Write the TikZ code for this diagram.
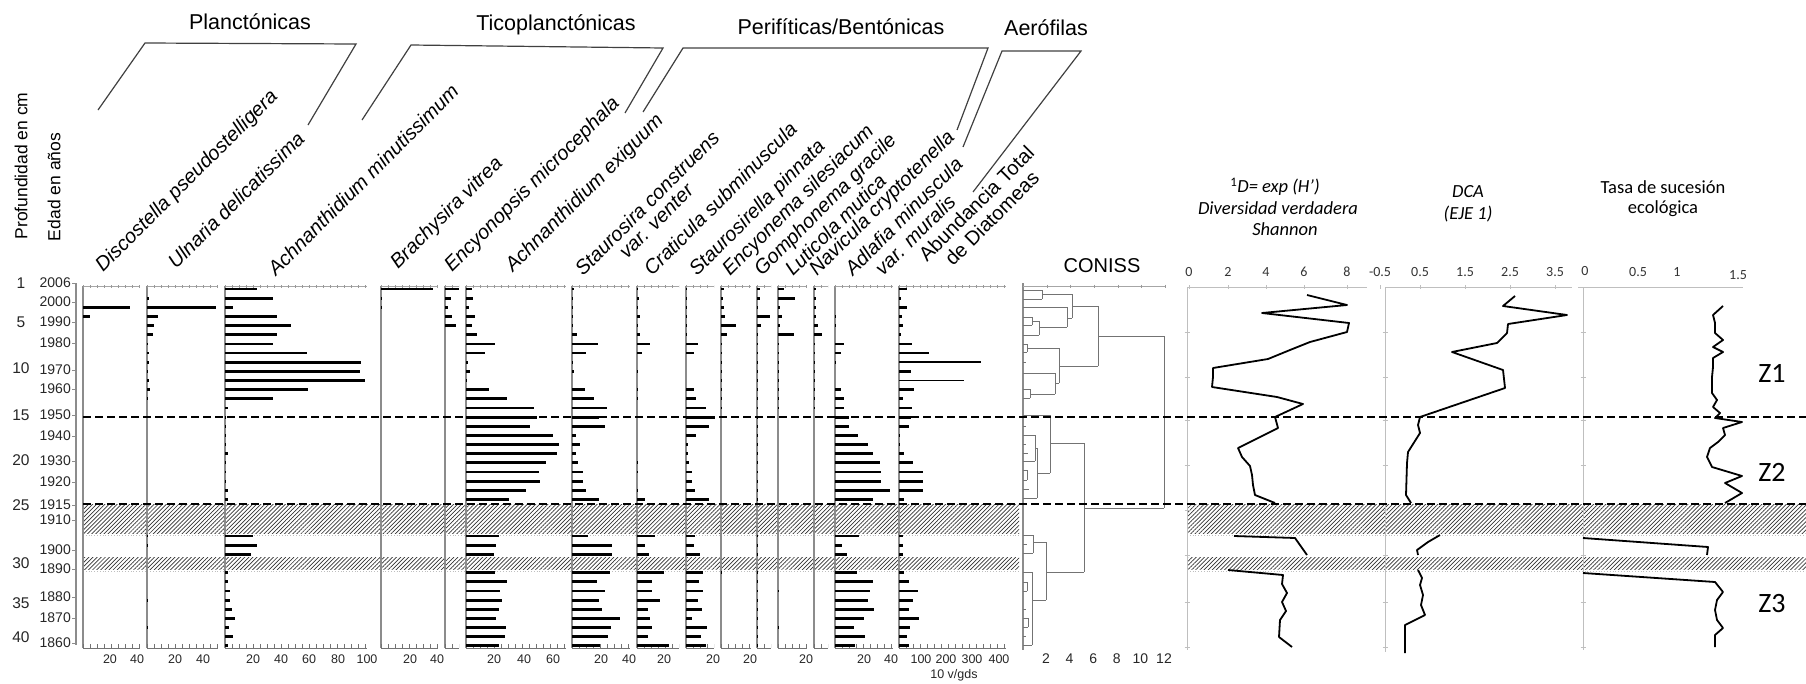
\documentclass[tikz,border=0pt]{standalone}
\usepackage{fontspec}
\setmainfont{Liberation Sans}
\newfontfamily\calib{Carlito}
\usetikzlibrary{patterns.meta}
\newcommand\drawbars[2]{%
  \foreach \bv [count=\bk from 0] in {#2}{%
    \ifdim\bv pt>0pt
      \fill[black] (#1,{289+9.15*\bk-1.4}) rectangle ++(\bv,2.8);
    \fi}}
\begin{document}
\begin{tikzpicture}[x=1pt,y=-1pt,
 colax/.style={draw=black!45,line width=1.3pt},
 topax/.style={draw=black!35,line width=0.8pt},
 topticks/.style={draw=black!40,line width=3pt,dash pattern=on 0.7pt off 6.3pt},
 botax/.style={draw=black!55,line width=1pt},
 botticks/.style={draw=black!55,line width=4pt,dash pattern=on 0.9pt off 6.1pt},
 dendl/.style={draw=black!55,line width=0.9pt},
 zonedash/.style={draw=black,line width=2.4pt,dash pattern=on 8pt off 4pt},
 hatchband/.style={pattern={Lines[angle=45,distance=2.9pt,line width=0.7pt]},pattern color=black!80},
 faint/.style={draw=black!25,line width=0.8pt,dotted},
 curvel/.style={draw=black,line width=1.8pt,line join=round},
 lightax/.style={draw=black!25,line width=1pt},
 brk/.style={draw=black!75,line width=1.2pt},
 splabel/.style={anchor=base west,rotate=45,inner sep=0pt,font=\fontsize{20}{22}\selectfont\itshape},
 grplabel/.style={inner sep=0pt,font=\fontsize{21.5}{24}\selectfont},
 ticklabel/.style={inner sep=0pt,font=\fontsize{12.5}{14}\selectfont,text=black!85},
 yearlabel/.style={anchor=east,inner sep=0pt,font=\fontsize{14}{16}\selectfont,text=black!85},
 depthlabel/.style={inner sep=0pt,font=\fontsize{15.5}{17}\selectfont,text=black!85},
 axtitle/.style={inner sep=0pt,rotate=90,font=\fontsize{17.5}{20}\selectfont},
 rtitle/.style={inner sep=0pt,font=\calib\fontsize{18.5}{21}\selectfont},
 rtick/.style={inner sep=0pt,font=\calib\fontsize{14}{16}\selectfont,text=black!80},
 zlabel/.style={inner sep=0pt,font=\calib\fontsize{28}{30}\selectfont},
]
\useasboundingbox (0,0) rectangle (1806,683);

% ---------- hatched gaps ----------
\fill[hatchband] (83,504) rectangle (1019,533);
\fill[hatchband] (83,557) rectangle (1019,569);
\fill[hatchband] (1187,504) rectangle (1806,533);
\fill[hatchband] (1187,557) rectangle (1806,569);
\foreach \yy in {535,571}{\draw[faint] (83,\yy) -- (1019,\yy); \draw[faint] (1187,\yy) -- (1806,\yy);}

% ---------- left axis ----------
\draw[colax] (76,283) -- (76,645);
\foreach \yr/\yy in {2006/283,2000/302,1990/322,1980/343,1970/370,1960/389,1950/415,1940/436,1930/461,1920/482,1915/505,1910/520,1900/550,1890/569,1880/597,1870/618,1860/643}{
  \node[yearlabel] (yr\yr) at (71,\yy) {\yr};
  \draw[black!45,line width=1pt] (72,\yy) -- (76,\yy);
}
\foreach \dp/\yy in {1/283,5/322,10/368,15/415,20/460,25/505,30/563,35/603,40/637}{
  \node[depthlabel] (dp\dp) at (21,\yy) {\dp};
}
\node[axtitle] (tprof) at (21,166) {Profundidad en cm};
\node[axtitle] (tedad) at (54,187) {Edad en años};

% ---------- column axes ----------
\foreach \xa/\xb in {83/140,147/218,225/367,381/438,445/459,466/566,572/630,637/679,686/714,721/751,757/771,778/807,814/828,835/893,899/1006}{
  \draw[colax] (\xa,286) -- (\xa,648);
  \draw[topax] (\xa,286) -- (\xb,286);
  \draw[topticks] (\xa,286) -- (\xb,286);
  \draw[botax] (\xa,648) -- (\xb,648);
  \draw[botticks] (\xa,646) -- (\xb,646);
}

% ---------- bars ----------
\drawbars{83}{0,0,47,6.7,0,0,0,0,0,0,0,0,0,0,0,0,0,0,0,0,0,0,0,0,0,0,0,0,0,0,0,0,0,0,0,0,0,0,0,0}
\drawbars{147}{0,1.7,69,10.7,7.3,5.7,1,2,2,1,2,2.7,1,0,0,0,0,0,0,0,0,0,0,0,0,0,0,1,1,0,0,0,0,0,1,0,0,1,0,0}
\drawbars{225}{32.3,47.7,8.3,52,65.7,51.7,47.7,81.7,135.7,135,139.7,82.7,48.3,2.7,1,1,1,1,2.7,1,1,1,2.7,2.7,0,0,0,28.3,32,25.7,0,3.3,2.7,5,5,7.3,9.7,3.7,8.3,3.3}
\drawbars{381}{51.7,1.3,1.3,0,0,0,0,0,0,0,0,0,0,0,0,0,0,0,0,0,0,0,0,0,0,0,0,0,0,0,0,0,0,0,0,0,0,0,0,0}
\drawbars{445}{14,5.5,2.5,7.4,10.5,0,0,0,0,0,0,0,0,0,0,0,0,0,0,0,0,0,0,0,0,0,0,0,0,0,0,0,0,0,0,0,0,0,0,0}
\drawbars{466}{5.5,7.4,3,8.5,5.5,11,28.5,19.2,1.8,3.7,1,23,40.7,68.4,71,63.6,87,92.5,90.6,80.3,73.3,74,60,42.5,0,0,0,33.3,30.3,27.7,0,28.9,41.4,34,35.9,33.3,30.3,40,38.8,32.6}
\drawbars{572}{1.5,1,1,1,1,5,26,13.7,1,1.5,0,12.6,22,34.8,27.4,33.3,4.4,8,4.4,6.3,11,10.7,13.7,26.6,0,0,0,15.5,39.6,39.6,0,37.7,24.8,33.3,27.4,30.3,48,38.5,35.9,27.7}
\drawbars{637}{1,2.2,1,3,1,3,13.3,5.2,0,1,0,1,1,0,0,0,0,0,0,1,1,0,1,7.8,0,0,0,17.8,7.8,12.2,0,27,15.2,14.8,23.3,11.1,12.6,14.8,11.1,31.8}
\drawbars{686}{1,1,1,1,1,1,12.2,7.8,0,0,0,7.8,10.4,20.3,28.5,23.3,10.4,2,2,3,5.5,5.5,8.5,23.3,0,0,0,9.2,8.1,13.7,0,17.4,13,17.4,12.2,15.5,5.5,21,14.8,20.3}
\drawbars{721}{3,1.8,2.6,4.4,15.2,5.5,1,1,1,1,1,1,1,1,0,0,0,0,0,0,0,0,0,0,0,0,0,0,0,0,0,1,0,0,0,0,0,0,0,0}
\drawbars{757}{3.3,3.3,1,12.6,3.7,1,1,1,1,1,1,1,1,1,1,1,1,1,1,1,1,1,1,1,0,0,0,1,1,1,0,1,1,1,1,1,1,1,1,1}
\drawbars{778}{6.3,17.4,1.5,4.4,1.5,16.3,1,1,1,1,1,1,1,1,0,0,0,0,0,0,0,0,0,0,0,0,0,0,0,0,0,0,0,1,0,0,0,1,0,0}
\drawbars{814}{1.8,1.5,1.5,1.8,3.7,8.1,1,1,1,1,1,1,1,1,0,0,0,0,0,0,0,0,0,0,0,0,0,0,0,0,0,0,0,0,0,0,0,0,0,0}
\drawbars{835}{0,0,0,1,1,0,9.2,6.3,1,0,0,5.5,8.9,8.9,13.7,14,22.9,33.3,37.7,45,45.9,45.9,55.1,37.7,0,0,0,23.7,6.7,11.8,0,21.5,37.7,35.1,33.3,39.2,28.5,19.2,30.3,20}
\drawbars{899}{8.1,1.8,8.1,3,3.7,2.2,13,0,0,12.2,0,14.8,4.4,13,12,10.4,1,1,4.8,13.7,24,24,24,4.8,0,0,0,3.7,3.7,3.7,0,4.8,10.4,18.5,14,10.4,19.6,11.1,8.1,9.6}
\draw[black,line width=1.4pt] (899,353) -- ++(29.6,0);
\draw[black,line width=1.4pt] (899,362) -- ++(82,0);
\draw[black,line width=1.4pt] (899,380.5) -- ++(64.7,0);

% ---------- bottom scale labels ----------
\foreach \tx/\tt [count=\ti] in {110/20,137/40,175/20,203/40,253/20,281/40,309/60,338/80,367/100,410/20,437/40,494/20,524/40,553/60,601/20,629/40,664/20,713/20,750/20,806/20,864/20,891/40,921/100,946/200,972/300,999/400}{
  \node[ticklabel] (bl\ti) at (\tx,659) {\tt};
}
\node[ticklabel] (unitlab) at (954,675) {10 v/gds};

% ---------- species labels ----------
\node[splabel] (s1) at (103,273) {Discostella pseudostelligera};
\node[splabel] (s2) at (176,270) {Ulnaria delicatissima};
\node[splabel] (s3) at (276,277) {Achnanthidium minutissimum};
\node[splabel] (s4) at (398,270) {Brachysira vitrea};
\node[splabel] (s5) at (452,273) {Encyonopsis microcephala};
\node[splabel] (s6) at (513,273) {Achnanthidium exiguum};
\node[splabel] (s7) at (583,277) {Staurosira construens};
\node[splabel] (s7b) at (627,260) {var. venter};
\node[splabel] (s8) at (652,277) {Craticula subminuscula};
\node[splabel] (s9) at (697,277) {Staurosirella pinnata};
\node[splabel] (s10) at (730,277) {Encyonema silesiacum};
\node[splabel] (s11) at (762,277) {Gomphonema gracile};
\node[splabel] (s12) at (793,277) {Luticola mutica};
\node[splabel] (s13) at (817,277) {Navicula cryptotenella};
\node[splabel] (s14) at (853,277) {Adlafia minuscula};
\node[splabel] (s14b) at (883,277) {var. muralis};
\node[splabel,font=\fontsize{20}{22}\selectfont] (s15) at (927,263) {Abundancia Total};
\node[splabel,font=\fontsize{20}{22}\selectfont] (s15b) at (953,267) {de Diatomeas};

% ---------- group headers ----------
\node[grplabel] (gplan) at (250,22) {Planctónicas};
\node[grplabel] (gtico) at (556,25) {Ticoplanctónicas};
\node[grplabel] (gperi) at (841,27) {Perifíticas/Bentónicas};
\node[grplabel] (gaero) at (1046,28) {Aerófilas};
\draw[brk] (98,110) -- (145,43) -- (356,44) -- (308,125);
\draw[brk] (362,120) -- (411,45) -- (663,48) -- (625,113);
\draw[brk] (643,112) -- (683,48) -- (988,48) -- (957,130);
\draw[brk] (963,147) -- (1002,51) -- (1081,51) -- (973,192);

% ---------- CONISS ----------
\node[inner sep=0pt,font=\fontsize{20}{22}\selectfont] (coniss) at (1102,266) {CONISS};
\draw[colax] (1023,283) -- (1023,650);
\draw[topax] (1023,286) -- (1165,286);
\foreach \cx in {1047,1070,1094,1118,1141,1165}{\draw[black!40,line width=1pt] (\cx,284.5) -- (\cx,287.5);}
\foreach \cv [count=\ci from 0] in {2,4,6,8,10,12}{
  \node[ticklabel,font=\fontsize{14}{16}\selectfont] (cn\ci) at ({1046+23.6*\ci},659) {\cv};
}
\foreach \xa/\ya/\xb/\yb in {
 1023/290/1042/290, 1023/299/1042/299, 1042/290/1042/299, 1042/294/1072/294, 1072/294/1072/318,
 1023/307/1067/307, 1067/307/1067/327, 1067/318/1072/318,
 1023/317/1032/317, 1023/325/1032/325, 1032/317/1032/325, 1032/321/1039/321, 1039/321/1039/335,
 1023/335/1039/335, 1039/327/1067/327,
 1072/306/1098/306, 1098/306/1098/366, 1098/336/1164/336, 1164/336/1164/508,
 1023/344/1027/344, 1023/352/1027/352, 1027/344/1027/352, 1027/348/1059/348, 1059/348/1059/383,
 1059/366/1098/366, 1023/362/1026/362, 1023/373/1055/373, 1055/373/1055/394, 1055/383/1059/383,
 1023/389/1030/389, 1023/398/1030/398, 1030/389/1030/398, 1030/394/1055/394,
 1023/415/1050/415, 1050/415/1050/473, 1050/443/1084/443, 1037/473/1050/473, 1037/448/1037/498,
 1023/498/1037/498, 1023/435/1035/435, 1035/435/1035/461, 1023/461/1035/461, 1035/448/1037/448,
 1023/426/1026/426, 1023/470/1027/470, 1027/470/1027/480, 1023/480/1027/480, 1023/489/1029/489,
 1023/444/1026/444, 1023/453/1028/453,
 1084/443/1084/572, 1084/508/1164/508,
 1023/535/1033/535, 1023/553/1033/553, 1033/535/1033/553, 1023/544/1027/544,
 1033/542/1046/542, 1046/542/1046/600, 1046/572/1084/572,
 1023/572/1032/572, 1032/572/1032/645, 1023/645/1032/645, 1032/600/1046/600,
 1023/582/1027/582, 1023/591/1027/591, 1027/582/1027/591, 1023/609/1026/609,
 1023/618/1028/618, 1023/627/1028/627, 1028/618/1028/627, 1023/636/1026/636}{
  \draw[dendl] (\xa,\ya) -- (\xb,\yb);
}

% ---------- right panels: axes ----------
\draw[lightax] (1187,287) -- (1187,650);
\draw[lightax] (1187,287) -- (1367,287);
\draw[lightax] (1385,287) -- (1385,652);
\draw[lightax] (1385,287) -- (1572,287);
\draw[lightax] (1583,287) -- (1583,650);
\draw[lightax] (1578,287) -- (1743,287);
\foreach \ax in {1187,1385,1583}{
  \foreach \yy in {332,377,420,465,510,555,602,647}{\draw[black!25,line width=1pt] (\ax-2.5,\yy) -- (\ax+2.5,\yy);}
}
\foreach \lx/\lt [count=\li] in {1189/0,1228/2,1266/4,1304/6,1347/8}{
  \node[rtick] (dv\li) at (\lx,272) {\lt};
  \draw[black!25,line width=1pt] (\lx,285) -- (\lx,289);
}
\foreach \lx/\lt [count=\li] in {1380/-0.5,1420/0.5,1465/1.5,1510/2.5,1555/3.5}{
  \node[rtick] (dc\li) at (\lx,272) {\lt};
  \draw[black!25,line width=1pt] (\lx,285) -- (\lx,289);
}
\foreach \lx/\lt/\ly [count=\li] in {1585/0/271,1638/0.5/272,1677/1/272,1738/1.5/275}{
  \node[rtick] (ts\li) at (\lx,\ly) {\lt};
}
\node[rtitle] (dtit1) at (1275,187) {\textsuperscript{1}\textit{D= exp (H’)}};
\node[rtitle] (dtit2) at (1278,208) {\textit{Diversidad verdadera}};
\node[rtitle] (dtit3) at (1285,229) {\textit{Shannon}};
\node[rtitle] (ctit1) at (1468,192) {\textit{DCA}};
\node[rtitle] (ctit2) at (1468,214) {\textit{(EJE 1)}};
\node[rtitle] (ttit1) at (1663,187) {Tasa de sucesión};
\node[rtitle] (ttit2) at (1663,209) {ecológica};

% ---------- curves ----------
\draw[curvel] (1307,295)--(1347,305)--(1262,313)--(1349,323)--(1347,332)--(1310,342)--(1290,350)--(1268,359)--(1213,368)--(1213,377)--(1212,387)--(1277,397)--(1303,404)--(1275,417)--(1278,428)--(1238,448)--(1242,457)--(1250,466)--(1252,475)--(1253,485)--(1255,495)--(1275,503);
\draw[curvel] (1234,536)--(1295,538)--(1307,555);
\draw[curvel] (1228,570)--(1283,575)--(1282,584)--(1287,593)--(1282,602)--(1286,611)--(1280,620)--(1279,637)--(1292,647);

\draw[curvel] (1515,296)--(1503,306)--(1567,315)--(1508,324)--(1507,333)--(1497,343)--(1452,352)--(1503,370)--(1505,388)--(1420,417)--(1418,425)--(1420,433)--(1408,452)--(1407,463)--(1406,495)--(1411,503);
\draw[curvel] (1440,535)--(1428,542)--(1417,550)--(1418,555);
\draw[curvel] (1418,570)--(1422,578)--(1420,585)--(1423,595)--(1421,605)--(1425,615)--(1405,625)--(1405,653);

\draw[curvel] (1723,306)--(1713,315)--(1715,323)--(1715,333)--(1723,340)--(1713,347)--(1723,352)--(1713,358)--(1713,367)--(1712,377)--(1712,393)--(1717,400)--(1713,407)--(1720,413)--(1715,418)--(1742,422)--(1723,428)--(1725,435)--(1718,442)--(1710,448)--(1707,457)--(1712,467)--(1742,476)--(1725,483)--(1742,493)--(1725,503);
\draw[curvel] (1583,538)--(1708,547)--(1707,555);
\draw[curvel] (1583,573)--(1715,582)--(1723,592)--(1717,600)--(1715,610)--(1717,620)--(1723,628)--(1715,635)--(1715,647);

% ---------- zone boundaries ----------
\draw[zonedash] (83,417) -- (1806,417);
\draw[zonedash] (83,504) -- (1806,504);
\node[zlabel] (z1) at (1772,373) {Z1};
\node[zlabel] (z2) at (1772,472) {Z2};
\node[zlabel] (z3) at (1772,603) {Z3};
\end{tikzpicture}
\end{document}
